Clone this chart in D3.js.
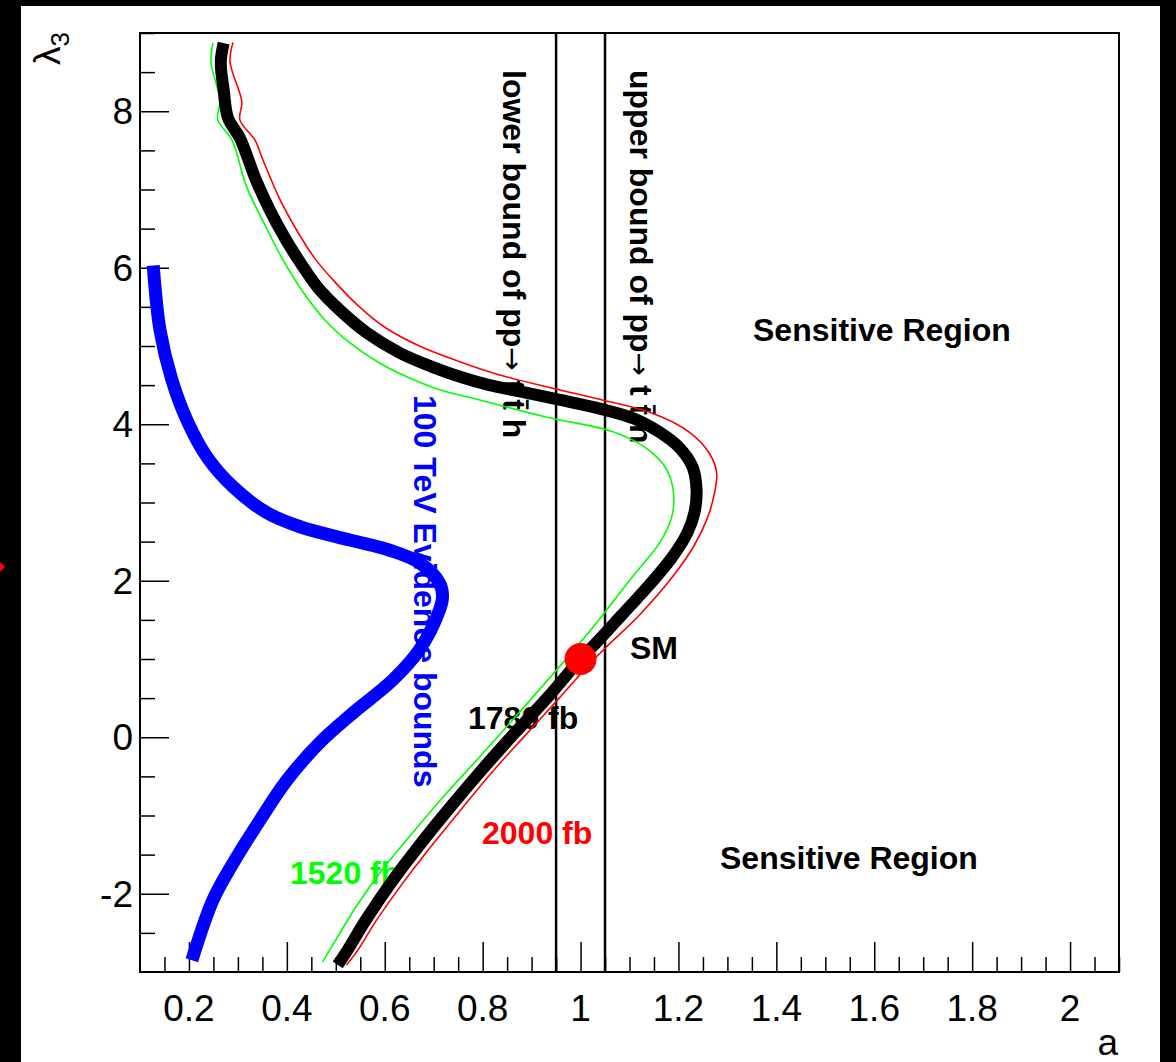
<!DOCTYPE html>
<html>
<head>
<meta charset="utf-8">
<script src="https://cdn.jsdelivr.net/npm/d3@7"></script>
<style>
  html, body { margin: 0; padding: 0; background: #fff; }
  svg { display: block; }
  text { font-family: "Liberation Sans", Arial, Helvetica, sans-serif; }
</style>
</head>
<body>
<script>
// Sensitivity bounds in the (a, lambda_3) plane, each as [a, lambda3] points.
const bound1780 = [
  [0.271, 8.87], [0.265, 8.63], [0.271, 8.27], [0.280, 7.91], [0.304, 7.66],
  [0.337, 7.12], [0.365, 6.74], [0.396, 6.38], [0.427, 6.07], [0.463, 5.75],
  [0.508, 5.46], [0.563, 5.17], [0.631, 4.91], [0.698, 4.73], [0.757, 4.60],
  [0.814, 4.50], [0.876, 4.42], [0.951, 4.32], [1.045, 4.19], [1.110, 4.07],
  [1.161, 3.90], [1.202, 3.70], [1.229, 3.45], [1.237, 3.16], [1.233, 2.88],
  [1.218, 2.61], [1.186, 2.29], [1.141, 1.95], [1.084, 1.56], [1.031, 1.20],
  [1.000, 1.00], [0.933, 0.51], [0.865, 0.05], [0.798, -0.42], [0.733, -0.90],
  [0.671, -1.38], [0.614, -1.85], [0.561, -2.34], [0.524, -2.72], [0.504, -2.91]
];
const bound2000 = [
  [0.290, 8.88], [0.284, 8.63], [0.308, 8.12], [0.304, 7.89], [0.335, 7.63],
  [0.351, 7.38], [0.386, 6.87], [0.422, 6.46], [0.457, 6.12], [0.498, 5.82],
  [0.545, 5.52], [0.600, 5.24], [0.671, 5.00], [0.753, 4.80], [0.835, 4.63],
  [0.943, 4.46], [1.045, 4.31], [1.147, 4.14], [1.222, 3.90], [1.263, 3.63],
  [1.278, 3.38], [1.273, 3.10], [1.259, 2.80], [1.233, 2.46], [1.188, 2.05],
  [1.120, 1.56], [1.057, 1.18], [1.022, 0.96], [0.955, 0.49], [0.888, 0.03],
  [0.820, -0.44], [0.755, -0.93], [0.694, -1.40], [0.635, -1.88], [0.582, -2.35],
  [0.545, -2.72], [0.522, -2.91]
];
const bound1520 = [
  [0.249, 8.87], [0.245, 8.63], [0.263, 8.14], [0.259, 7.89], [0.288, 7.63],
  [0.318, 7.03], [0.355, 6.55], [0.392, 6.10], [0.433, 5.69], [0.478, 5.33],
  [0.529, 5.04], [0.590, 4.78], [0.651, 4.59], [0.712, 4.44], [0.794, 4.31],
  [0.931, 4.09], [1.053, 3.93], [1.106, 3.80], [1.147, 3.63], [1.176, 3.42],
  [1.190, 3.12], [1.186, 2.81], [1.161, 2.48], [1.106, 2.05], [1.045, 1.56],
  [0.998, 1.20], [0.951, 0.86], [0.861, 0.22], [0.794, -0.25], [0.727, -0.71],
  [0.657, -1.22], [0.594, -1.70], [0.541, -2.17], [0.500, -2.59], [0.473, -2.87]
];
const evidence100TeV = [
  [0.127, 6.03], [0.141, 5.20], [0.165, 4.57], [0.196, 4.05], [0.237, 3.58],
  [0.290, 3.20], [0.359, 2.87], [0.427, 2.69], [0.529, 2.52], [0.610, 2.39],
  [0.671, 2.23], [0.712, 1.97], [0.718, 1.79], [0.712, 1.63], [0.671, 1.12],
  [0.616, 0.73], [0.535, 0.31], [0.467, -0.07], [0.400, -0.55], [0.345, -1.06],
  [0.290, -1.61], [0.249, -2.08], [0.206, -2.85]
];
// Bounds on a from pp -> t tbar h
const ttHBounds = [0.95, 1.05];
const smPoint = [1, 1];

const xTicks = [0.2, 0.4, 0.6, 0.8, 1.0, 1.2, 1.4, 1.6, 1.8, 2.0];
const xTickLabels = ["0.2", "0.4", "0.6", "0.8", "1", "1.2", "1.4", "1.6", "1.8", "2"];
const yTicks = [-2, 0, 2, 4, 6, 8];
const yTickLabels = ["-2", "0", "2", "4", "6", "8"];

const W = 1176, H = 1062;
const frame = { left: 140, right: 1119, top: 33, bottom: 972 };

const svg = d3.select("body").append("svg")
  .attr("width", W).attr("height", H);

svg.append("rect").attr("width", W).attr("height", H).attr("fill", "#fff");
// dark surround
svg.append("rect").attr("x", 0).attr("y", 0).attr("width", 21).attr("height", H).attr("fill", "#000");
svg.append("rect").attr("x", 0).attr("y", 0).attr("width", W).attr("height", 6).attr("fill", "#000");
svg.append("rect").attr("x", 1160).attr("y", 0).attr("width", W - 1160).attr("height", H).attr("fill", "#000");
svg.append("path").attr("d", "M0,562 L5,567 L0,572 Z").attr("fill", "#f00");

const x = d3.scaleLinear().domain([0.1, 2.1]).range([frame.left, frame.right]);
const y = d3.scaleLinear().domain([-3, 9]).range([frame.bottom, frame.top]);

// frame
svg.append("rect")
  .attr("x", frame.left).attr("y", frame.top)
  .attr("width", frame.right - frame.left).attr("height", frame.bottom - frame.top)
  .attr("fill", "none").attr("stroke", "#000").attr("stroke-width", 2);

// x axis: major ticks every 0.2, minor every 0.05
const xAxis = d3.axisTop(x)
  .tickValues(d3.range(0.15, 2.101, 0.05).map(v => +v.toFixed(2)))
  .tickSize(15).tickFormat("");
const gx = svg.append("g").attr("transform", `translate(0,${frame.bottom})`).call(xAxis);
gx.select(".domain").remove();
gx.selectAll(".tick line")
  .attr("stroke-width", 1.5)
  .attr("y2", d => xTicks.some(t => Math.abs(t - d) < 1e-6) ? -30 : -15);

svg.append("g").selectAll("text").data(xTicks).join("text")
  .attr("x", d => x(d)).attr("y", 1021)
  .attr("text-anchor", "middle").attr("font-size", 37)
  .text((d, i) => xTickLabels[i]);

// y axis: major every 2, minor every 0.5
const yAxis = d3.axisRight(y)
  .tickValues(d3.range(-2.5, 9.01, 0.5))
  .tickSize(15).tickFormat("");
const gy = svg.append("g").attr("transform", `translate(${frame.left},0)`).call(yAxis);
gy.select(".domain").remove();
gy.selectAll(".tick line")
  .attr("stroke-width", 1.5)
  .attr("x2", d => yTicks.some(t => Math.abs(t - d) < 1e-6) ? 29 : 15);

svg.append("g").selectAll("text").data(yTicks).join("text")
  .attr("x", 133).attr("y", d => y(d) + 13)
  .attr("text-anchor", "end").attr("font-size", 37)
  .text((d, i) => yTickLabels[i]);

// axis titles
svg.append("text")
  .attr("x", 1118).attr("y", 1055)
  .attr("text-anchor", "end").attr("font-size", 37).text("a");

const lam = svg.append("text")
  .attr("transform", "translate(60,32) rotate(-90)")
  .attr("text-anchor", "end").attr("font-size", 37);
lam.append("tspan").text("λ");
lam.append("tspan").attr("dy", 9).attr("font-size", 26).text("3");

// text annotations (curves are drawn over them)
const bold = (t, px, py, color) => svg.append("text")
  .attr("x", px).attr("y", py).attr("font-size", 32).attr("font-weight", "bold")
  .attr("fill", color).text(t);
bold("Sensitive Region", 753, 341, "#000");
bold("Sensitive Region", 720, 869, "#000");
bold("SM", 630, 659, "#000");
bold("1780 fb", 468, 729, "#000");
bold("2000 fb", 482, 844, "#f00");
bold("1520 fb", 290, 884, "#0f0");

const vtext = (pre, px, py, color) => {
  const t = svg.append("text")
    .attr("transform", `translate(${px},${py}) rotate(90)`)
    .attr("font-size", 32).attr("font-weight", "bold").attr("fill", color);
  t.append("tspan").text(pre);
  return t;
};
for (const [word, px] of [["lower", 503], ["upper", 630]]) {
  const t = vtext(`${word} bound of pp`, px, 70, "#000");
  t.append("tspan").attr("font-family", "DejaVu Sans").attr("font-weight", "normal")
    .attr("font-size", 28).text("\u2192");
  t.append("tspan").text(" t t\u0304 h");
}
vtext("100 TeV Evidence bounds", 414, 395, "#00f");

// vertical bound lines
svg.append("g").selectAll("line").data(ttHBounds).join("line")
  .attr("x1", d => x(d)).attr("x2", d => x(d))
  .attr("y1", frame.top).attr("y2", frame.bottom)
  .attr("stroke", "#000").attr("stroke-width", 2.5);

const line = d3.line()
  .x(d => x(d[0])).y(d => y(d[1]))
  .curve(d3.curveCatmullRom.alpha(0.5));

svg.append("path").datum(evidence100TeV).attr("d", line)
  .attr("fill", "none").attr("stroke", "#00f").attr("stroke-width", 13);
svg.append("path").datum(bound1520).attr("d", line)
  .attr("fill", "none").attr("stroke", "#0f0").attr("stroke-width", 1.6);
svg.append("path").datum(bound2000).attr("d", line)
  .attr("fill", "none").attr("stroke", "#f00").attr("stroke-width", 1.6);
svg.append("path").datum(bound1780).attr("d", line)
  .attr("fill", "none").attr("stroke", "#000").attr("stroke-width", 12);

svg.append("circle")
  .attr("cx", x(smPoint[0])).attr("cy", y(smPoint[1])).attr("r", 16)
  .attr("fill", "#f00");
</script>
</body>
</html>
